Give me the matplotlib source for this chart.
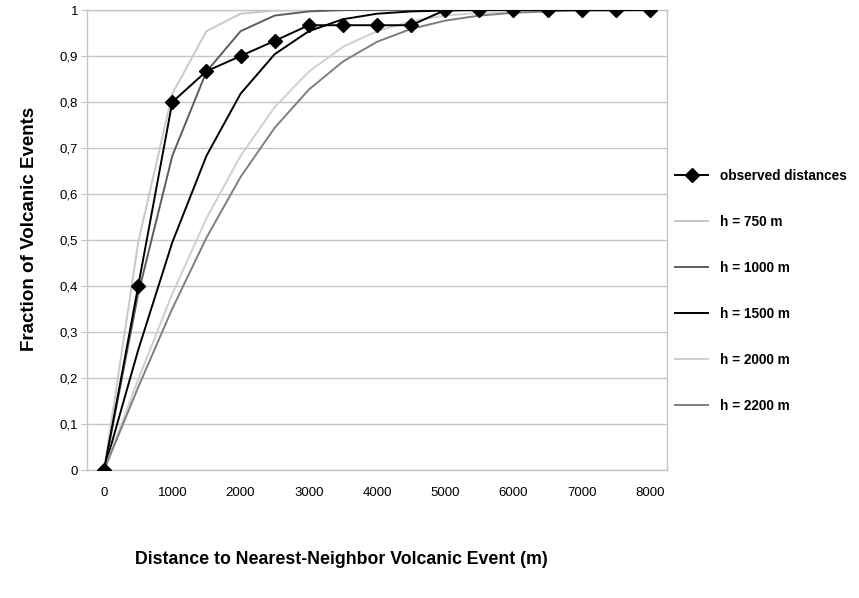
import matplotlib
matplotlib.use("Agg")
import matplotlib.pyplot as plt

plt.rcParams["font.family"] = ["Liberation Sans", "DejaVu Sans"]

# ---- data ------------------------------------------------------------------
distances = [0, 500, 1000, 1500, 2000, 2500, 3000, 3500, 4000,
             4500, 5000, 5500, 6000, 6500, 7000, 7500, 8000]
observed = [0, 0.4, 0.8, 0.867, 0.9, 0.933, 0.967, 0.967, 0.967,
            0.967, 1, 1, 1, 1, 1, 1, 1]
h750 = [0, 0.495, 0.818, 0.954, 0.992, 0.999, 1, 1, 1,
        1, 1, 1, 1, 1, 1, 1, 1]
h1000 = [0, 0.383, 0.683, 0.866, 0.954, 0.988, 0.997, 1, 1,
         1, 1, 1, 1, 1, 1, 1, 1]
h1500 = [0, 0.261, 0.495, 0.683, 0.818, 0.904, 0.954, 0.980, 0.992,
         0.997, 0.999, 1, 1, 1, 1, 1, 1]
h2000 = [0, 0.197, 0.383, 0.547, 0.683, 0.789, 0.866, 0.920, 0.954,
         0.976, 0.988, 0.994, 0.997, 0.999, 1, 1, 1]
h2200 = [0, 0.180, 0.351, 0.505, 0.637, 0.744, 0.827, 0.888, 0.931,
         0.959, 0.977, 0.988, 0.994, 0.997, 0.999, 0.999, 1]
y_ticks = [0, 0.1, 0.2, 0.3, 0.4, 0.5, 0.6, 0.7, 0.8, 0.9, 1]

models = [("h = 750 m", h750, "#c8c8c8"),
          ("h = 1000 m", h1000, "#5c5c5c"),
          ("h = 1500 m", h1500, "#000000"),
          ("h = 2000 m", h2000, "#cfcfcf"),
          ("h = 2200 m", h2200, "#7f7f7f")]

GRID = "#c6c6c6"

fig = plt.figure(figsize=(8.59, 5.98), dpi=100)
ax = fig.add_axes([0.1013, 0.214, 0.6752, 0.7692])

pos = list(range(len(distances)))   # category axis, one slot per distance

handles = []
for label, vals, col in models:
    ln, = ax.plot(pos, vals, color=col, lw=1.4, zorder=3, label=label)
    handles.append(ln)
obs, = ax.plot(pos, observed, color="black", lw=1.4, marker="D", ms=6.8,
               zorder=4, label="observed distances")
handles.insert(0, obs)

ax.set_xlim(-0.5, len(distances) - 0.5)
ax.set_ylim(0, 1)
ax.set_xticks(pos[::2])
ax.set_xticklabels([str(d) for d in distances[::2]])
ax.set_yticks(y_ticks)
ax.set_yticklabels([("%g" % v).replace(".", ",") for v in y_ticks])
ax.tick_params(axis="x", length=0, labelsize=9.5, pad=12)
ax.tick_params(axis="y", length=4, color=GRID, labelsize=9.5, pad=2.5)

ax.grid(axis="y", color=GRID, lw=1.0, zorder=0)
for s in ax.spines.values():
    s.set_color(GRID)
    s.set_linewidth(1.0)

ax.set_xlabel("Distance to Nearest-Neighbor Volcanic Event (m)",
              fontsize=12.8, fontweight="bold")
ax.xaxis.set_label_coords(0.438, -0.175)
ax.set_ylabel("Fraction of Volcanic Events",
              fontsize=13.5, fontweight="bold")
ax.yaxis.set_label_coords(-0.084, 0.525)

leg = ax.legend(handles=handles, loc="center left",
                bbox_to_anchor=(0.993, 0.39), frameon=False,
                prop={"size": 9.8, "weight": "bold"},
                labelspacing=2.35, handlelength=2.4, handletextpad=0.9)

fig.savefig("out.png", dpi=100)
